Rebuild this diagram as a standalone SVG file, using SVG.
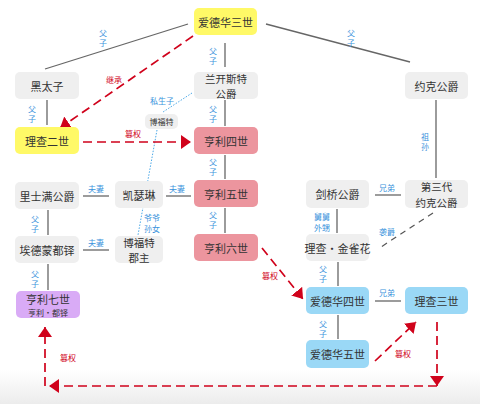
<svg xmlns="http://www.w3.org/2000/svg" width="480" height="404" viewBox="0 0 480 404">
<style>
text{font-family:"Noto Sans CJK SC","Noto Sans",sans-serif;text-anchor:middle;dominant-baseline:central}
.n{font-size:11px;fill:#333}
.n2{font-size:10.5px;fill:#333}
.s{font-size:8px;fill:#333}
.lb{font-size:8px;fill:#3a93dc}
.lr{font-size:8px;fill:#d0021b}
.g{fill:#efefef}
.y{fill:#fff967}
.p{fill:#ec959e}
.b{fill:#9ad8f6}
.v{fill:#d9abf6}
.ln{stroke:#666;stroke-width:1.3;fill:none}
.rd{stroke:#d0021b;stroke-width:1.7;fill:none;stroke-dasharray:9 5}
.gd{stroke:#555;stroke-width:1.2;fill:none;stroke-dasharray:6 5}
.dt{stroke:#4aa8e8;stroke-width:1;fill:none;stroke-dasharray:1.5 1.5}
</style>
<defs>
<linearGradient id="bg" x1="0" y1="0" x2="0" y2="1">
<stop offset="0" stop-color="#ffffff"/>
<stop offset="1" stop-color="#ececec"/>
</linearGradient>
<marker id="ar" markerUnits="userSpaceOnUse" viewBox="0 0 10 14" markerWidth="10" markerHeight="14" refX="10" refY="7" orient="auto">
<path d="M0,0 L10,7 L0,14 z" fill="#d0021b"/>
</marker>
</defs>
<rect width="480" height="404" fill="#fff"/>
<rect y="370" width="480" height="34" fill="url(#bg)"/>
<g id="connectors">
<path class="ln" d="M188,24 L45,69"/>
<path class="ln" d="M266,24 L410,62"/>
<path class="ln" d="M225,43 L225,67"/>
<path class="ln" d="M47,100 L47,125"/>
<path class="ln" d="M225,100 L225,126"/>
<path class="ln" d="M225,155 L225,179"/>
<path class="ln" d="M225,208 L225,233"/>
<path class="ln" d="M166,196 L191,196"/>
<path class="ln" d="M83,196 L109,196"/>
<path class="ln" d="M83,250 L109,250"/>
<path class="ln" d="M48,210 L48,235"/>
<path class="ln" d="M48,264 L48,290"/>
<path class="ln" d="M337,209 L337,233"/>
<path class="ln" d="M375,195 L401,195"/>
<path class="ln" d="M436,100 L436,178"/>
<path class="ln" d="M338,262 L338,286"/>
<path class="ln" d="M375,301 L401,301"/>
<path class="ln" d="M338,315 L338,339"/>
<path class="gd" d="M433,213 L381,247"/>
<path class="dt" d="M192,93 L163,112"/>
<path class="dt" d="M157,130 L138,235"/>
<path class="rd" d="M193,36 L60,128" marker-end="url(#ar)"/>
<path class="rd" d="M83,142 L191,142" marker-end="url(#ar)"/>
<path class="rd" d="M262,248 L303,299" marker-end="url(#ar)"/>
<path class="rd" d="M375,361 L416,322" marker-end="url(#ar)"/>
<path class="rd" d="M437,322 L437,386" marker-end="url(#ar)"/>
<path class="rd" d="M437,386 L49,386" marker-end="url(#ar)"/>
<path class="rd" d="M45,386 L45,327" marker-end="url(#ar)"/>
<text class="lb" x="103" y="32">父<tspan x="103" dy="10">子</tspan></text>
<text class="lb" x="351" y="32">父<tspan x="351" dy="10">子</tspan></text>
<text class="lb" x="213" y="50">父<tspan x="213" dy="10">子</tspan></text>
<text class="lb" x="32" y="108">父<tspan x="32" dy="10">子</tspan></text>
<text class="lb" x="213" y="108">父<tspan x="213" dy="10">子</tspan></text>
<text class="lb" x="213" y="161">父<tspan x="213" dy="10">子</tspan></text>
<text class="lb" x="213" y="214">父<tspan x="213" dy="10">子</tspan></text>
<text class="lb" x="35" y="218">父<tspan x="35" dy="10">子</tspan></text>
<text class="lb" x="35" y="273">父<tspan x="35" dy="10">子</tspan></text>
<text class="lb" x="323" y="268">父<tspan x="323" dy="10">子</tspan></text>
<text class="lb" x="323" y="323">父<tspan x="323" dy="10">子</tspan></text>
<text class="lb" x="425" y="136">祖<tspan x="425" dy="10">孙</tspan></text>
<text class="lb" x="322" y="216">舅舅<tspan x="322" dy="11">外甥</tspan></text>
<text class="lb" x="152" y="217">爷爷<tspan x="152" dy="11">孙女</tspan></text>
<text class="lb" x="162" y="100">私生子</text>
<text class="lb" x="177" y="188">夫妻</text>
<text class="lb" x="96" y="188">夫妻</text>
<text class="lb" x="96" y="242">夫妻</text>
<text class="lb" x="387" y="187">兄弟</text>
<text class="lb" x="387" y="292">兄弟</text>
<text class="lb" x="387" y="231">袭爵</text>
<text class="lr" x="114" y="79">继承</text>
<text class="lr" x="133" y="133">篡权</text>
<text class="lr" x="270" y="275">篡权</text>
<text class="lr" x="403" y="353">篡权</text>
<text class="lr" x="68" y="357">篡权</text>
</g>
<g id="edward3"><rect class="y" x="194" y="8" width="63" height="27" rx="5"/><text class="n" x="225.5" y="21.5">爱德华三世</text></g>
<g id="blackprince"><rect class="g" x="15" y="72" width="64" height="27" rx="5"/><text class="n" x="47" y="85.5">黑太子</text></g>
<g id="richard2"><rect class="y" x="15" y="127" width="64" height="27" rx="5"/><text class="n" x="47" y="140.5">理查二世</text></g>
<g id="lancaster"><rect class="g" x="194" y="72" width="64" height="27" rx="5"/><text class="n2" x="226" y="78">兰开斯特<tspan x="226" dy="15.2">公爵</tspan></text></g>
<g id="beaufort"><rect class="g" x="145" y="114" width="33" height="15" rx="5"/><text class="s" x="161.5" y="121.5">博福特</text></g>
<g id="henry4"><rect class="p" x="194" y="127" width="64" height="27" rx="5"/><text class="n" x="226" y="140.5">亨利四世</text></g>
<g id="henry5"><rect class="p" x="194" y="180" width="64" height="27" rx="5"/><text class="n" x="226" y="193.5">亨利五世</text></g>
<g id="henry6"><rect class="p" x="194" y="234" width="64" height="27" rx="5"/><text class="n" x="226" y="247.5">亨利六世</text></g>
<g id="richmond"><rect class="g" x="15" y="182" width="64" height="27" rx="5"/><text class="n" x="47" y="195.5">里士满公爵</text></g>
<g id="catherine"><rect class="g" x="115" y="181" width="48" height="27" rx="5"/><text class="n" x="139" y="194.5">凯瑟琳</text></g>
<g id="edmund"><rect class="g" x="15" y="236" width="64" height="27" rx="5"/><text class="n" x="47" y="249.5">埃德蒙都铎</text></g>
<g id="margaret"><rect class="g" x="115" y="236" width="48" height="27" rx="5"/><text class="n2" x="139" y="242">博福特<tspan x="139" dy="15.2">郡主</tspan></text></g>
<g id="henry7"><rect class="v" x="16" y="291" width="64" height="27" rx="5"/><text class="n" x="48" y="298.5">亨利七世<tspan class="s" x="48" dy="13.5">亨利·都铎</tspan></text></g>
<g id="york"><rect class="g" x="405" y="72" width="63" height="27" rx="5"/><text class="n" x="436.5" y="85.5">约克公爵</text></g>
<g id="york3"><rect class="g" x="405" y="180" width="63" height="28" rx="5"/><text class="n2" x="436.5" y="186.5">第三代<tspan x="436.5" dy="15.2">约克公爵</tspan></text></g>
<g id="cambridge"><rect class="g" x="306" y="180" width="63" height="28" rx="5"/><text class="n" x="337.5" y="194">剑桥公爵</text></g>
<g id="plantagenet"><rect class="g" x="306" y="234" width="63" height="27" rx="5"/><text class="n" x="337.5" y="247.5">理查·金雀花</text></g>
<g id="edward4"><rect class="b" x="306" y="287" width="63" height="27" rx="5"/><text class="n" x="337.5" y="300.5">爱德华四世</text></g>
<g id="richard3"><rect class="b" x="405" y="287" width="63" height="27" rx="5"/><text class="n" x="436.5" y="300.5">理查三世</text></g>
<g id="edward5"><rect class="b" x="306" y="340" width="63" height="28" rx="5"/><text class="n" x="337.5" y="354">爱德华五世</text></g>
</svg>
